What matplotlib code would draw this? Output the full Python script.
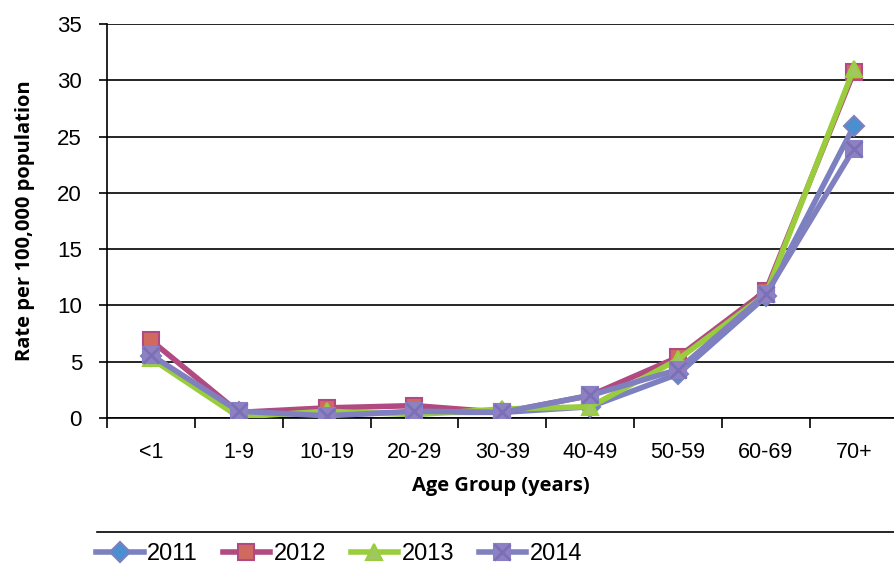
import matplotlib.pyplot as plt
from matplotlib.lines import Line2D
from matplotlib.legend_handler import HandlerTuple

age_groups = ['<1', '1-9', '10-19', '20-29', '30-39', '40-49', '50-59', '60-69', '70+']
years = ['2011', '2012', '2013', '2014']
rate_2011 = [5.5, 0.5, 0.3, 0.5, 0.5, 1.0, 3.9, 10.8, 25.9]
rate_2012 = [6.9, 0.5, 0.9, 1.1, 0.5, 2.0, 5.4, 11.3, 30.7]
rate_2013 = [5.3, 0.1, 0.6, 0.3, 0.8, 1.0, 5.2, 11.0, 31.0]
rate_2014 = [5.6, 0.6, 0.2, 0.6, 0.5, 2.0, 4.3, 11.0, 23.9]

plt.rcParams['font.family'] = ['Liberation Sans', 'DejaVu Sans']

fig = plt.figure(figsize=(8.95, 5.71), dpi=100)
ax = fig.add_axes([107 / 895, 1 - 418 / 571, 1 - 107 / 895, (418 - 24) / 571])

x = list(range(len(age_groups)))

h1, = ax.plot(x, rate_2011, color='#7b80c0', lw=4, marker='D', ms=10,
              mfc='#4a8fd0', mec='#7b80c0', mew=1.5, zorder=3)
h2, = ax.plot(x, rate_2012, color='#b04a80', lw=4, marker='s', ms=12,
              mfc='#d06a60', mec='#b04a80', mew=1.5, zorder=3)
h3, = ax.plot(x, rate_2013, color='#9acd3c', lw=4, marker='^', ms=12,
              mfc='#a0c860', mec='#9acd3c', mew=1.5, zorder=3)
h4, = ax.plot(x, rate_2014, color='#8080c0', lw=4, marker='s', ms=12,
              mfc='#9080c0', mec='#8a80c4', mew=1.5, zorder=3)
h4x, = ax.plot(x, rate_2014, ls='none', marker='x', ms=11, mec='#7a70b8',
               mew=2, zorder=4)

ax.set_xlim(-0.5, 8.47)
ax.set_ylim(0, 35)
ax.set_yticks(range(0, 36, 5))
ax.set_xticks(x)
ax.set_xticklabels(age_groups, fontsize=15.5)
ax.set_xticks([i + 0.5 for i in range(-1, 8)], minor=True)
ax.tick_params(axis='x', which='major', length=0, pad=17)
ax.tick_params(axis='x', which='minor', length=7, width=1.2, direction='out')
ax.tick_params(axis='y', labelsize=16, length=6, width=1.2, direction='out', pad=12)

ax.grid(axis='y', color='black', lw=1.2)
ax.set_axisbelow(True)
for side in ['top', 'right']:
    ax.spines[side].set_visible(False)
for side in ['left', 'bottom']:
    ax.spines[side].set_linewidth(1.2)

ax.set_xlabel('Age Group (years)', fontsize=14.5, fontweight='bold',
              family='Open Sans', labelpad=10)
ax.set_ylabel('Rate per 100,000 population', fontsize=14.5, fontweight='bold',
              family='Open Sans', labelpad=16)

fig.add_artist(Line2D([97 / 895, 1], [1 - 532 / 571] * 2, color='black', lw=1.2))

fig.legend([h1, h2, h3, (h4, h4x)], years, loc='center left',
           bbox_to_anchor=(87 / 895, 1 - 554 / 571), ncol=4, frameon=False,
           fontsize=17, handlelength=2.0, columnspacing=1.05, handletextpad=0.15,
           borderaxespad=0, handler_map={tuple: HandlerTuple(ndivide=1)})

fig.savefig('out.png', dpi=100)
